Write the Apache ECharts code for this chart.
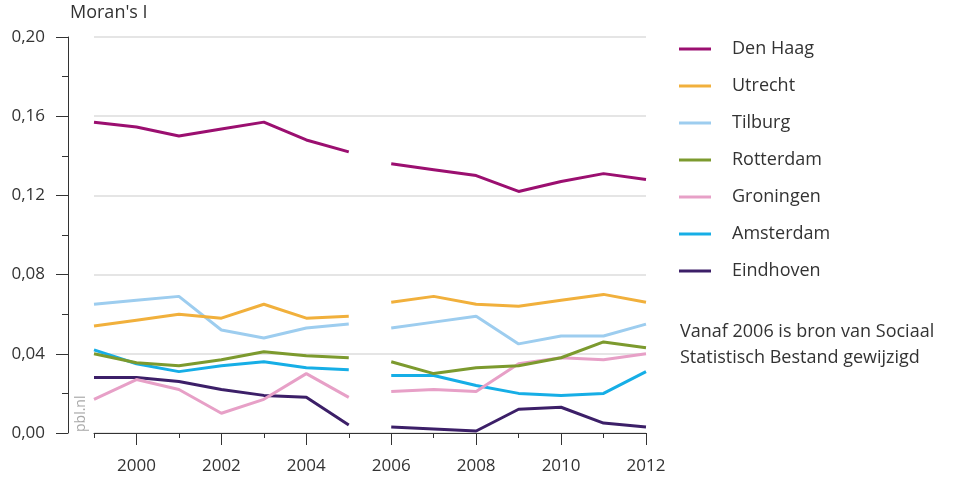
<!DOCTYPE html>
<html>
<head>
<meta charset="utf-8">
<script src="https://cdn.jsdelivr.net/npm/echarts@6/dist/echarts.min.js"></script>
<style>
html,body{margin:0;padding:0;background:#fff;}
#chart{width:955px;height:493px;}
</style>
</head>
<body>
<div id="chart"></div>
<script>
var years = ['1999','2000','2001','2002','2003','2004','2005','2006','2007','2008','2009','2010','2011','2012'];
var cities = ['Den Haag','Utrecht','Tilburg','Rotterdam','Groningen','Amsterdam','Eindhoven'];
var denHaag   = [0.157,0.1545,0.150,0.1535,0.157,0.148,0.142, 0.136,0.133,0.130,0.122,0.127,0.131,0.128];
var utrecht   = [0.054,0.057,0.060,0.058,0.065,0.058,0.059, 0.066,0.069,0.065,0.064,0.067,0.070,0.066];
var tilburg   = [0.065,0.067,0.069,0.052,0.048,0.053,0.055, 0.053,0.056,0.059,0.045,0.049,0.049,0.055];
var rotterdam = [0.040,0.0355,0.034,0.037,0.041,0.039,0.038, 0.036,0.030,0.033,0.034,0.038,0.046,0.043];
var groningen = [0.017,0.027,0.022,0.010,0.017,0.030,0.018, 0.021,0.022,0.021,0.035,0.038,0.037,0.040];
var amsterdam = [0.042,0.035,0.031,0.034,0.036,0.033,0.032, 0.029,0.029,0.024,0.020,0.019,0.020,0.031];
var eindhoven = [0.028,0.028,0.026,0.022,0.019,0.018,0.004, 0.003,0.002,0.001,0.012,0.013,0.005,0.003];
var yTicks = [0, 0.04, 0.08, 0.12, 0.16, 0.20];
var colors = ['#9b0f70','#f1b03c','#9dcdef','#7c9a2e','#e7a0c7','#16aee6','#3c1f68'];
var values = [denHaag, utrecht, tilburg, rotterdam, groningen, amsterdam, eindhoven];
var breakIndex = years.indexOf('2006');

var series = [];
cities.forEach(function(name, ci){
  var v = values[ci];
  var seg1 = v.map(function(d,i){ return i < breakIndex ? d : null; });
  var seg2 = v.map(function(d,i){ return i >= breakIndex ? d : null; });
  [seg1, seg2].forEach(function(seg){
    series.push({
      name: name, type: 'line', data: seg, xAxisIndex: 0, yAxisIndex: 0,
      symbol: 'none', showSymbol: false, connectNulls: false,
      lineStyle: { color: colors[ci], width: 3 },
      itemStyle: { color: colors[ci] },
      z: 10 - ci
    });
  });
});

var font = '"Open Sans", "Noto Sans", sans-serif';
var chart = echarts.init(document.getElementById('chart'), null, {renderer:'canvas'});
chart.setOption({
  animation: false,
  backgroundColor: '#fff',
  grid: { left: 94, right: 309, top: 37, bottom: 60 },
  xAxis: [{
    type: 'category', data: years, boundaryGap: false,
    axisLine: { show: true, lineStyle: { color: '#333', width: 1 } },
    axisTick: { show: true, length: 5, interval: 0, lineStyle: { color: '#333' } },
    axisLabel: { interval: function(i, v){ return (+v) % 2 === 0; }, margin: 25,
      color: '#333', fontSize: 17, fontFamily: font },
    splitLine: { show: false }
  },{
    type: 'category', data: years, boundaryGap: false, position: 'bottom',
    axisLine: { show: false },
    axisTick: { show: true, length: 12, interval: function(i, v){ return (+v) % 2 === 0; }, lineStyle: { color: '#333' } },
    axisLabel: { show: false },
    splitLine: { show: false }
  }],
  yAxis: {
    type: 'value', min: 0, max: 0.2, interval: 0.04, offset: 26,
    axisLine: { show: true, lineStyle: { color: '#333', width: 1 } },
    axisTick: { show: true, length: 12, lineStyle: { color: '#333' } },
    minorTick: { show: true, splitNumber: 2, length: 6, lineStyle: { color: '#333' } },
    axisLabel: { margin: 23, color: '#333', fontSize: 17, fontFamily: font,
      formatter: function(v){ return v.toFixed(2).replace('.', ','); } },
    splitLine: { show: true, lineStyle: { color: '#dcdcdc', width: 1.5 } }
  },
  legend: {
    data: cities, orient: 'vertical', left: 679, top: 40, padding: 0,
    icon: 'rect', itemWidth: 32, itemHeight: 3, itemGap: 19,
    textStyle: { color: '#333', fontSize: 18, fontFamily: font, padding: [0,0,0,16] },
    selectedMode: false
  },
  graphic: [
    { type: 'text', x: 70, y: 13, style: { text: "Moran's I", fill: '#333', font: '18px ' + font, textVerticalAlign: 'middle' } },
    { type: 'text', left: 680, top: 319, style: { text: 'Vanaf 2006 is bron van Sociaal\nStatistisch Bestand gewijzigd', fill: '#333', font: '18px ' + font, lineHeight: 26 } },
    { type: 'text', x: 88, y: 432, rotation: Math.PI/2, style: { text: 'pbl.nl', fill: '#a8a8a8', font: '14px ' + font, textAlign: 'left', textVerticalAlign: 'bottom' } }
  ],
  series: series
});
</script>
</body>
</html>
